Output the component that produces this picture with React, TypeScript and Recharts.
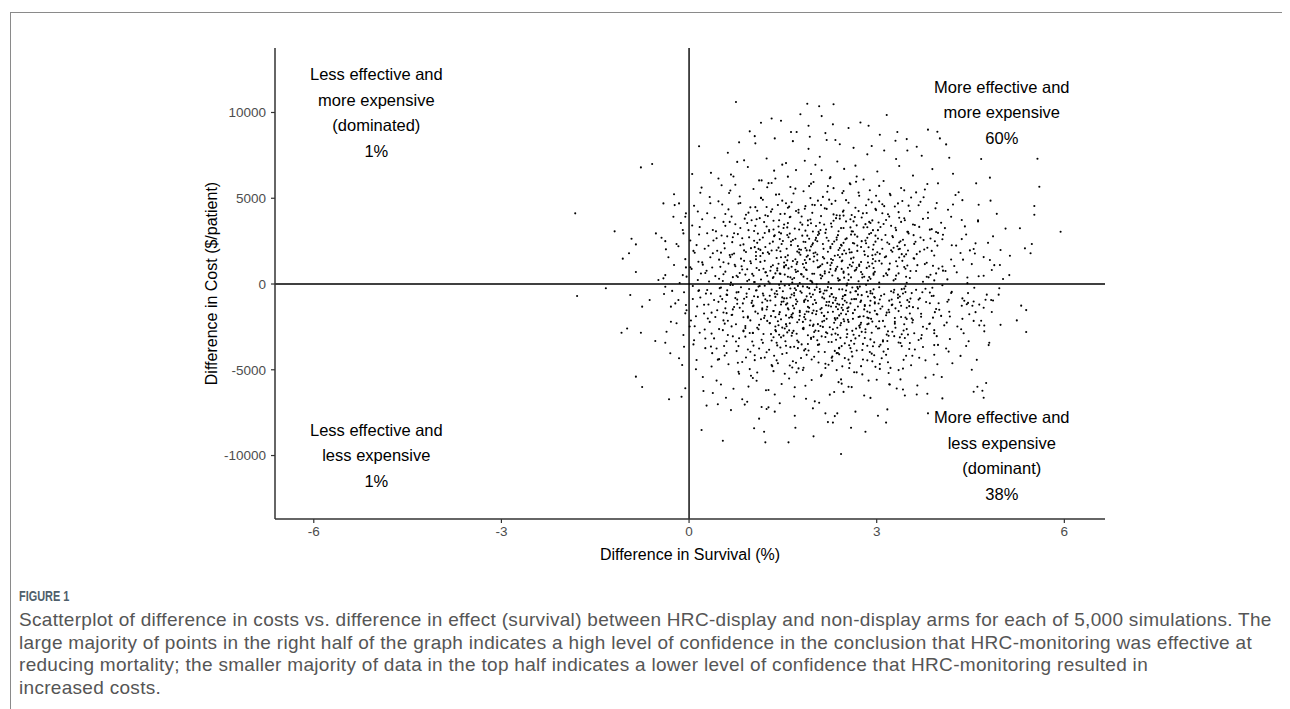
import React from "react"
import { ScatterChart, Scatter, XAxis, YAxis, ReferenceLine, ReferenceDot } from "recharts"

// [survival diff (%), cost diff ($/patient)], grouped by area
const coreAbove: [number, number][] = [
  [1.32,9650],[2.55,9100],[1.78,9900],[2.74,9420],
  [1.05,8620],[2.41,8150],[3.05,8700],[1.66,8330],[2.92,8050],[0.97,8900],[3.48,8450],[2.18,8800],
  [0.62,7650],[1.24,7320],[1.91,7880],[2.37,7140],[2.85,7560],[3.31,7290],[1.55,7050],[2.63,7940],[3.72,7480],[0.88,7210],[2.09,7420],[3.12,7780],
  [0.35,6480],[0.94,6820],[1.38,6150],[1.71,6640],[2.02,6950],[2.26,6230],[2.48,6710],[2.79,6090],[3.01,6560],[3.36,6880],[3.58,6320],[1.12,6040],[1.95,6410],[2.66,6900],[3.89,6700],[0.71,6270],[4.22,6430],[1.49,6960],
  [0.18,5320],[0.52,5760],[0.81,5100],[1.03,5540],[1.27,5880],[1.44,5230],[1.62,5660],[1.83,5410],[1.99,5950],[2.14,5080],[2.31,5590],[2.45,5300],[2.58,5820],[2.72,5150],[2.89,5470],[3.04,5720],[3.21,5260],[3.39,5600],[3.55,5040],[3.77,5510],[3.98,5870],[4.26,5190],[1.15,5020],[1.92,5710],[2.67,5960],[0.66,5450],[3.63,5340],[2.21,5380],
  [0.08,4560],[0.29,4130],[0.47,4820],[0.63,4350],[0.79,4690],[0.91,4040],[1.06,4480],[1.18,4910],[1.31,4220],[1.42,4610],[1.53,4090],[1.64,4770],[1.75,4330],[1.86,4540],[1.97,4150],[2.06,4860],[2.17,4410],[2.28,4670],[2.36,4010],[2.47,4290],[2.55,4740],[2.66,4450],[2.78,4120],[2.87,4930],[2.98,4380],[3.09,4650],[3.18,4070],[3.29,4520],[3.41,4840],[3.53,4260],[3.67,4590],[3.82,4170],[3.96,4720],[4.14,4330],[4.37,4890],[1.22,4010],[2.01,4600],[2.71,4250],[1.58,4450],[3.35,4190],
  [0.05,3410],[0.21,3780],[0.38,3150],[0.55,3620],[0.68,3930],[0.82,3270],[0.93,3560],[1.04,3090],[1.13,3840],[1.24,3350],[1.35,3690],[1.44,3020],[1.52,3470],[1.61,3890],[1.69,3230],[1.78,3590],[1.86,3110],[1.94,3760],[2.03,3380],[2.11,3960],[2.19,3180],[2.27,3530],[2.35,3840],[2.43,3260],[2.51,3650],[2.6,3070],[2.68,3420],[2.76,3880],[2.85,3310],[2.93,3710],[3.02,3140],[3.11,3500],[3.2,3930],[3.3,3280],[3.39,3620],[3.5,3050],[3.61,3440],[3.74,3800],[3.88,3200],[4.03,3570],[4.19,3920],[4.41,3360],[4.62,3710],[1.0,3720],[1.57,3300],[2.07,3040],[2.47,3990],[2.9,3560],[3.44,3830],[1.28,3150],[1.9,3430],[2.58,3300],[3.15,3730],[0.74,3480],[3.95,3030],
  [0.02,2540],[0.16,2890],[0.31,2230],[0.44,2670],[0.57,2080],[0.69,2440],[0.78,2910],[0.87,2310],[0.96,2720],[1.05,2150],[1.13,2580],[1.21,2970],[1.29,2360],[1.36,2790],[1.43,2120],[1.5,2510],[1.57,2860],[1.63,2270],[1.7,2640],[1.76,2030],[1.83,2460],[1.89,2820],[1.95,2190],[2.02,2570],[2.08,2940],[2.14,2330],[2.2,2700],[2.26,2090],[2.32,2480],[2.38,2850],[2.44,2240],[2.5,2610],[2.56,2020],[2.62,2390],[2.69,2760],[2.75,2160],[2.82,2530],[2.88,2910],[2.95,2290],[3.02,2650],[3.09,2060],[3.17,2420],[3.25,2800],[3.33,2200],[3.42,2580],[3.51,2950],[3.6,2340],[3.7,2710],[3.81,2110],[3.93,2490],[4.06,2870],[4.2,2260],[4.36,2620],[4.55,2040],[4.78,2400],[0.25,2060],[0.61,2780],[1.09,2400],[1.47,2950],[1.86,2100],[2.23,2520],[2.59,2880],[2.98,2470],[3.37,2050],[3.75,2560],[1.66,2560],[2.41,2100],[2.85,2700],[3.2,2330],[1.98,2380],
  [-0.06,1450],[0.09,1820],[0.22,1130],[0.34,1560],[0.45,1940],[0.55,1270],[0.65,1690],[0.74,1040],[0.83,1480],[0.91,1870],[0.99,1210],[1.07,1630],[1.14,1990],[1.21,1350],[1.28,1760],[1.34,1090],[1.4,1520],[1.46,1910],[1.52,1250],[1.58,1670],[1.64,1010],[1.7,1440],[1.76,1830],[1.82,1170],[1.88,1590],[1.93,1960],[1.99,1310],[2.05,1720],[2.1,1060],[2.16,1490],[2.22,1880],[2.28,1230],[2.33,1650],[2.39,1980],[2.45,1370],[2.51,1780],[2.57,1120],[2.63,1540],[2.69,1930],[2.75,1280],[2.81,1700],[2.88,1030],[2.94,1460],[3.01,1850],[3.08,1190],[3.15,1610],[3.23,1970],[3.31,1330],[3.4,1740],[3.49,1080],[3.59,1500],[3.69,1890],[3.8,1240],[3.92,1660],[4.05,1020],[4.19,1430],[4.34,1810],[4.52,1160],[4.71,1570],[0.15,1300],[0.5,1000],[0.88,1350],[1.18,1800],[1.55,1100],[1.85,1400],[2.13,1150],[2.41,1560],[2.72,1050],[3.04,1350],[3.36,1550],[3.65,1100],[1.32,1950],[2.0,1600],[2.6,1850],[2.98,1720],[1.73,1280],[2.3,1400],[2.86,1250],[3.5,1950],[0.72,1780],
  [-0.1,520],[0.04,880],[0.14,230],[0.26,640],[0.37,960],[0.48,310],[0.58,720],[0.67,90],[0.76,480],[0.85,850],[0.93,170],[1.01,590],[1.08,930],[1.15,260],[1.22,680],[1.29,40],[1.35,410],[1.41,790],[1.47,140],[1.53,550],[1.59,910],[1.65,280],[1.71,700],[1.77,60],[1.83,430],[1.88,820],[1.94,190],[2.0,600],[2.06,970],[2.11,330],[2.17,740],[2.23,110],[2.29,500],[2.35,880],[2.41,240],[2.47,650],[2.53,20],[2.59,390],[2.65,780],[2.71,160],[2.77,570],[2.84,940],[2.9,300],[2.97,710],[3.04,80],[3.11,460],[3.19,840],[3.27,210],[3.35,620],[3.44,990],[3.53,350],[3.63,760],[3.74,130],[3.86,540],[3.99,900],[4.13,270],[4.28,680],[4.45,50],[4.63,450],[4.84,820],[0.32,150],[0.7,400],[1.05,120],[1.38,620],[1.68,350],[1.97,80],[2.26,870],[2.55,560],[2.86,200],[3.17,520],[3.48,70],[3.8,420],[1.12,820],[1.8,560],[2.38,330],[2.95,930],[3.3,290],[0.55,570],[1.52,960],[2.13,460],[2.68,950],[3.92,210],[4.1,760],[1.25,480],[2.8,420],
]

const coreBelow: [number, number][] = [
  [-0.08,-480],[0.06,-120],[0.18,-790],[0.29,-350],[0.4,-930],[0.51,-210],[0.61,-640],[0.7,-60],[0.79,-470],[0.88,-860],[0.96,-290],[1.04,-710],[1.11,-150],[1.18,-560],[1.25,-980],[1.32,-330],[1.38,-750],[1.44,-40],[1.5,-420],[1.56,-830],[1.62,-260],[1.68,-670],[1.74,-110],[1.8,-510],[1.86,-900],[1.92,-240],[1.98,-610],[2.04,-20],[2.1,-440],[2.16,-850],[2.22,-180],[2.28,-580],[2.34,-950],[2.4,-310],[2.46,-720],[2.52,-90],[2.58,-490],[2.64,-880],[2.7,-270],[2.76,-650],[2.83,-50],[2.9,-410],[2.97,-800],[3.04,-190],[3.12,-600],[3.2,-970],[3.28,-340],[3.37,-730],[3.46,-130],[3.56,-530],[3.67,-910],[3.78,-280],[3.91,-690],[4.05,-70],[4.2,-460],[4.37,-840],[4.56,-220],[4.76,-620],[0.35,-560],[0.74,-820],[1.07,-380],[1.41,-600],[1.71,-900],[2.01,-340],[2.31,-770],[2.61,-200],[2.93,-560],[3.23,-420],[3.54,-850],[3.85,-500],[1.21,-100],[1.95,-760],[2.5,-640],[3.05,-900],[0.92,-560],[1.6,-60],[2.2,-380],[2.75,-970],[3.4,-300],[0.15,-400],[4.15,-920],[2.67,-420],
  [-0.04,-1530],[0.11,-1880],[0.24,-1210],[0.36,-1670],[0.47,-1040],[0.58,-1420],[0.68,-1810],[0.77,-1150],[0.86,-1590],[0.94,-1960],[1.02,-1300],[1.1,-1720],[1.17,-1080],[1.24,-1490],[1.31,-1870],[1.38,-1240],[1.45,-1640],[1.51,-1020],[1.58,-1410],[1.64,-1790],[1.71,-1170],[1.77,-1560],[1.84,-1930],[1.9,-1330],[1.97,-1700],[2.03,-1100],[2.1,-1470],[2.16,-1850],[2.23,-1260],[2.3,-1620],[2.37,-1990],[2.44,-1380],[2.51,-1760],[2.58,-1130],[2.65,-1510],[2.73,-1900],[2.81,-1280],[2.89,-1660],[2.97,-1060],[3.06,-1440],[3.15,-1820],[3.25,-1200],[3.35,-1580],[3.46,-1950],[3.58,-1350],[3.71,-1730],[3.85,-1120],[4.0,-1500],[4.17,-1890],[4.36,-1270],[4.58,-1640],[0.42,-1920],[0.81,-1380],[1.2,-1980],[1.55,-1200],[1.88,-1600],[2.2,-1050],[2.55,-1360],[2.87,-1990],[3.2,-1650],[3.52,-1050],[1.0,-1100],[1.65,-1950],[2.4,-1200],[3.0,-1750],[3.9,-1960],[0.6,-1700],[2.8,-1480],[1.35,-1570],[2.12,-1680],
  [0.01,-2480],[0.17,-2840],[0.33,-2210],[0.48,-2630],[0.62,-2970],[0.75,-2350],[0.87,-2760],[0.98,-2120],[1.09,-2550],[1.19,-2910],[1.29,-2290],[1.38,-2690],[1.47,-2060],[1.56,-2460],[1.65,-2850],[1.73,-2230],[1.82,-2600],[1.9,-2990],[1.99,-2370],[2.07,-2740],[2.16,-2140],[2.25,-2520],[2.34,-2890],[2.43,-2270],[2.52,-2660],[2.62,-2030],[2.72,-2430],[2.82,-2810],[2.93,-2190],[3.04,-2580],[3.16,-2950],[3.29,-2320],[3.43,-2710],[3.58,-2100],[3.74,-2490],[3.92,-2870],[4.12,-2250],[4.35,-2640],[0.55,-2120],[1.02,-2850],[1.43,-2400],[1.86,-2050],[2.28,-2950],[2.67,-2600],[3.1,-2150],[3.5,-2950],[1.6,-2700],[2.1,-2450],[2.85,-2350],[0.25,-2650],[3.85,-2300],[1.25,-2150],[2.47,-2050],[0.9,-2450],[3.3,-2550],[2.0,-2800],[4.55,-2150],
  [0.07,-3520],[0.26,-3180],[0.44,-3760],[0.6,-3340],[0.76,-3910],[0.9,-3070],[1.03,-3590],[1.16,-3250],[1.28,-3830],[1.4,-3420],[1.51,-3010],[1.62,-3680],[1.73,-3290],[1.84,-3870],[1.95,-3140],[2.06,-3550],[2.17,-3960],[2.28,-3380],[2.4,-3720],[2.52,-3100],[2.64,-3480],[2.77,-3850],[2.9,-3230],[3.04,-3640],[3.19,-3020],[3.35,-3410],[3.52,-3790],[3.71,-3170],[3.92,-3560],[4.15,-3940],[0.35,-3650],[0.98,-3950],[1.55,-3600],[2.12,-3050],[2.6,-3950],[3.1,-3350],[1.35,-3100],[2.35,-3250],[3.45,-3150],[0.7,-3050],[1.9,-3500],[2.85,-3600],
  [0.12,-4430],[0.36,-4810],[0.57,-4170],[0.78,-4590],[0.97,-4960],[1.15,-4320],[1.32,-4720],[1.49,-4080],[1.66,-4500],[1.83,-4880],[2.0,-4240],[2.18,-4650],[2.36,-4030],[2.55,-4410],[2.75,-4790],[2.96,-4150],[3.18,-4560],[3.42,-4930],[3.68,-4300],[3.97,-4680],[0.48,-4380],[1.05,-4150],[1.75,-4920],[2.45,-4800],[3.05,-4950],[2.28,-4300],[1.4,-4450],[2.85,-4450],
  [0.22,-5420],[0.51,-5860],[0.8,-5230],[1.08,-5640],[1.35,-5080],[1.6,-5510],[1.86,-5930],[2.12,-5300],[2.39,-5720],[2.68,-5150],[3.0,-5580],[3.35,-5020],[3.78,-5460],[0.95,-5980],[1.72,-5150],[2.55,-5990],[3.2,-5850],
  [0.38,-6350],[0.85,-6720],[1.27,-6180],[1.68,-6560],[2.08,-6920],[2.47,-6290],[2.9,-6640],[3.42,-6150],[1.45,-6950],[2.25,-6450],
  [1.12,-7850],[2.22,-8050],
]

// second pass over the cloud, read column by column
const coreColumns: [number, number][] = [
  [0.03,-2130],[0.41,3860],[0.27,-560],[0.12,2270],[0.46,-4410],[0.19,610],[0.33,5070],[0.08,-3280],[0.38,1790],[0.24,-1720],[0.49,-240],[0.14,4230],[0.44,-5630],[0.29,2960],[0.06,-870],[0.36,-2890],[0.21,1260],[0.47,6150],[0.11,-4970],[0.31,-1190],[0.42,460],[0.17,3320],[0.26,-3740],[0.39,2540],[0.02,980],[0.45,-1530],[0.23,-6240],[0.34,4710],[0.09,-2460],[0.48,1420],[0.16,-360],[0.3,-2010],[0.43,3070],[0.2,5620],[0.37,-4030],[0.13,-1310],[0.28,770],[0.4,-3170],[0.07,1930],[0.5,-710],
  [0.52,2830],[0.87,-1940],[0.61,-370],[0.95,4160],[0.73,1120],[0.56,-3610],[0.81,640],[0.68,-2470],[0.99,2090],[0.64,5310],[0.77,-910],[0.58,3390],[0.91,-4280],[0.7,-1480],[0.85,2670],[0.54,180],[0.97,-2860],[0.66,1570],[0.79,-5120],[0.6,-620],[0.89,3810],[0.75,-3350],[0.53,4640],[0.93,860],[0.69,-1790],[0.83,-190],[0.57,-2310],[0.98,1330],[0.72,2960],[0.63,-4680],[0.86,-1130],[0.51,1830],[0.94,-3820],[0.78,410],[0.67,6380],[0.9,-2570],[0.59,-1030],[0.82,4720],[0.71,-6110],[0.96,250],[0.55,-1660],[0.88,1960],[0.65,3620],[0.8,-3160],[0.92,-760],[0.74,5790],[0.62,-2140],[0.84,1040],[0.56,2380],[0.99,-5350],[0.76,-490],[0.69,1720],[0.87,-2720],[0.6,-4020],[0.95,3140],[0.53,-880],[0.82,2260],[0.72,-1340],[0.9,550],[0.58,4080],[0.79,-3620],[0.66,-60],[0.94,-1890],[0.7,2730],[0.85,-4550],[0.63,1190],[0.98,4470],[0.54,-2690],[0.77,7120],[0.89,-7030],
  [1.03,-1260],[1.37,2840],[1.18,-3430],[1.46,590],[1.09,4270],[1.29,-680],[1.42,-2170],[1.14,1630],[1.33,-4790],[1.06,3390],[1.48,-1040],[1.22,2160],[1.39,5210],[1.11,-2640],[1.27,140],[1.44,3720],[1.02,-5480],[1.35,-1580],[1.19,890],[1.47,-3110],[1.24,4490],[1.08,-360],[1.4,1970],[1.31,-2920],[1.16,6040],[1.49,-780],[1.04,2520],[1.36,-4180],[1.21,-1850],[1.43,1180],[1.12,-3760],[1.28,3060],[1.45,-230],[1.07,1440],[1.38,-2480],[1.25,5640],[1.01,-980],[1.34,350],[1.17,-1420],[1.46,4080],[1.23,-6190],[1.1,2940],[1.41,-3580],[1.3,770],[1.15,-2050],[1.48,2330],[1.05,-4440],[1.37,-560],[1.2,3610],[1.44,-1760],[1.13,-120],[1.32,-3290],[1.26,1850],[1.49,4860],[1.03,480],[1.39,-2760],[1.18,2710],[1.47,-1190],[1.09,-5160],[1.35,3180],[1.22,-890],[1.42,-4620],[1.14,1290],[1.29,-2280],[1.45,610],[1.06,-1610],[1.33,4360],[1.24,-3980],[1.4,-410],[1.11,2050],[1.27,-7190],[1.47,1560],[1.02,-2860],[1.36,6610],[1.19,-670],[1.44,-2960],[1.08,3780],[1.31,1010],[1.25,-1330],[1.48,-5830],[1.15,5020],[1.38,-1930],[1.04,120],[1.34,2470],[1.21,-4290],[1.43,3350],[1.12,-2380],[1.3,-960],[1.46,-3700],[1.07,1870],[1.41,910],[1.17,-1500],[1.26,3960],[1.49,-2540],[1.1,-750],[1.37,-6440],[1.23,690],[1.45,2620],[1.01,-3350],[1.32,5890],
  [1.52,-840],[1.88,1960],[1.67,-2730],[1.95,3540],[1.58,420],[1.79,-4310],[1.63,2480],[1.91,-1620],[1.71,-350],[1.55,4710],[1.84,960],[1.99,-3080],[1.6,-1970],[1.76,3180],[1.93,-560],[1.66,1340],[1.53,-5230],[1.82,-2210],[1.97,2290],[1.7,5560],[1.57,-1130],[1.86,-3790],[1.74,740],[1.9,-980],[1.62,3920],[1.98,-2450],[1.78,1710],[1.54,-3340],[1.85,4390],[1.68,-1420],[1.96,160],[1.61,-4750],[1.81,2820],[1.72,-2900],[1.89,-180],[1.56,2060],[1.94,5010],[1.77,-1850],[1.64,-610],[1.87,1230],[1.51,3270],[1.8,-3520],[1.69,-6020],[1.92,2640],[1.59,-1490],[1.83,-2560],[1.75,4160],[1.98,-1180],[1.65,80],[1.88,-4130],[1.73,1890],[1.55,-2340],[1.9,3710],[1.62,-790],[1.96,-5600],[1.79,580],[1.58,6260],[1.85,-1760],[1.68,-3660],[1.93,1450],[1.53,-90],[1.76,-2080],[1.97,4620],[1.61,2940],[1.84,-970],[1.71,-4590],[1.89,310],[1.57,-2820],[1.81,3460],[1.66,-1270],[1.95,-3210],[1.74,2210],[1.52,1040],[1.87,-6690],[1.63,-1910],[1.99,1790],[1.78,-420],[1.6,4510],[1.83,-2630],[1.7,830],[1.92,-1390],[1.56,-4020],[1.86,2450],[1.67,5280],[1.94,-2130],[1.73,-1020],[1.54,1570],[1.82,-5010],[1.97,600],[1.64,-3020],[1.8,3940],[1.69,-250],[1.91,-3880],[1.59,2730],[1.77,-1640],[1.98,3060],[1.65,-4870],[1.88,-720],[1.72,1160],[1.55,-1830],[1.85,7190],[1.62,390],[1.93,-2400],[1.75,-3390],[1.58,3550],[1.9,1660],[1.68,-530],[1.96,-4400],[1.79,2000],[1.61,-2290],[1.84,-1050],[1.71,4260],[1.53,-2590],[1.87,850],[1.66,-1710],[1.95,5850],[1.74,-3740],[1.57,1380],[1.82,-140],[1.99,-1540],
  [2.02,1840],[2.38,-2960],[2.17,620],[2.46,-1210],[2.09,3570],[2.29,-4480],[2.43,2280],[2.13,-780],[2.34,4850],[2.06,-2340],[2.48,370],[2.22,-1650],[2.39,3080],[2.11,-5370],[2.27,1460],[2.44,-3620],[2.04,-190],[2.36,2710],[2.19,-2810],[2.47,5420],[2.24,-1040],[2.08,990],[2.4,-4100],[2.31,4060],[2.16,-1870],[2.49,-650],[2.05,2490],[2.37,-2550],[2.21,1230],[2.44,-5810],[2.12,-1400],[2.28,3340],[2.45,-310],[2.07,-3950],[2.38,1690],[2.25,6170],[2.01,-930],[2.34,-2090],[2.18,2980],[2.46,-1520],[2.23,-4710],[2.1,530],[2.41,3810],[2.3,-2640],[2.15,-560],[2.48,1950],[2.05,-3280],[2.37,-1150],[2.2,4380],[2.44,880],[2.13,-2190],[2.32,-6300],[2.26,2170],[2.49,-3460],[2.03,-1760],[2.39,200],[2.18,-3090],[2.47,3270],[2.09,-470],[2.35,-1330],[2.22,5710],[2.42,-2400],[2.14,1570],[2.29,-4230],[2.45,-860],[2.06,2860],[2.33,-1990],[2.24,690],[2.4,-3750],[2.11,4600],[2.27,-240],[2.47,2400],[2.02,-2710],[2.36,-5020],[2.19,-1240],[2.44,1320],[2.08,-3520],[2.31,3690],[2.25,-720],[2.48,-2170],[2.15,2050],[2.38,-4020],[2.04,-1580],[2.34,780],[2.21,-2870],[2.43,-5560],[2.1,3150],[2.3,-1100],[2.46,4210],[2.17,-380],[2.4,-1830],[2.26,1090],[2.07,-4580],[2.36,2580],[2.23,-3380],[2.49,-980],[2.12,6630],[2.32,-2260],[2.45,1740],[2.01,-6840],[2.28,-590],[2.42,-3140],[2.16,3470],[2.38,-1470],[2.2,-2030],[2.47,730],[2.05,1380],[2.33,-3900],[2.24,4920],[2.43,-1720],[2.14,-2500],[2.29,2330],[2.49,-4320],[2.09,-290],[2.37,1010],[2.27,-1310],[2.41,3990],[2.18,-4900],[2.35,-820],[2.03,2690],
  [2.53,-1410],[2.87,2140],[2.66,-3170],[2.95,540],[2.58,3780],[2.79,-1880],[2.92,-4060],[2.62,1250],[2.84,-460],[2.51,4890],[2.73,-2540],[2.98,2820],[2.6,-890],[2.77,-5270],[2.93,1680],[2.55,-2210],[2.82,3490],[2.69,-170],[2.96,-3400],[2.64,2360],[2.89,-1250],[2.57,-4620],[2.75,700],[2.99,4310],[2.61,-2730],[2.86,-730],[2.71,5330],[2.54,950],[2.91,-2030],[2.68,-3880],[2.8,1910],[2.52,-1080],[2.94,3140],[2.74,-2360],[2.6,-6010],[2.88,410],[2.65,2880],[2.97,-1560],[2.56,-3570],[2.83,4590],[2.7,-620],[2.92,-2840],[2.59,1480],[2.78,-4400],[2.95,-310],[2.63,3650],[2.85,-1950],[2.53,-2910],[2.76,2500],[2.98,-4830],[2.67,830],[2.9,-980],[2.57,5870],[2.81,-3150],[2.72,1130],[2.94,2010],[2.62,-1700],[2.87,-5630],[2.55,230],[2.79,3300],[2.99,-2480],[2.66,-420],[2.84,4140],[2.58,-3740],[2.93,1200],[2.7,-1310],[2.52,2660],[2.89,-3960],[2.75,-2260],[2.6,4020],[2.96,-760],[2.64,-5140],[2.86,1620],[2.73,-150],[2.54,-2090],[2.91,2970],[2.78,-3490],[2.68,6270],[2.97,-1140],[2.57,1840],[2.82,-2640],[2.61,-4220],[2.88,3620],[2.74,-1050],[2.95,620],[2.63,-2960],[2.8,-6500],[2.51,-380],[2.92,4760],[2.69,2240],[2.85,-1600],[2.59,-3310],[2.98,1330],[2.76,-2790],[2.65,3900],[2.9,-540],[2.56,-4900],[2.83,2380],[2.71,-1920],[2.94,-3630],[2.6,1040],[2.87,-2310],[2.67,-880],[2.99,5150],[2.54,-1590],[2.77,380],[2.93,-4510],[2.62,3060],[2.81,-1230],[2.72,-3020],
  [3.03,-1140],[3.38,2490],[3.17,-3320],[3.46,890],[3.09,4130],[3.29,-1980],[3.43,-4420],[3.13,1560],[3.34,-620],[3.06,3320],[3.48,-2630],[3.22,5180],[3.39,-1270],[3.11,-3940],[3.27,2110],[3.44,-270],[3.04,-2170],[3.36,3860],[3.19,-5190],[3.47,1730],[3.24,-900],[3.08,2580],[3.4,-3620],[3.31,490],[3.16,-1670],[3.49,3040],[3.05,-4670],[3.37,-1060],[3.21,1190],[3.44,-2350],[3.12,4540],[3.28,-3040],[3.45,2270],[3.07,-680],[3.38,-5560],[3.25,1880],[3.01,-1780],[3.34,4700],[3.18,-2760],[3.46,-470],[3.23,3390],[3.1,-3280],[3.41,1350],[3.3,-1420],[3.15,-4130],[3.48,-2040],[3.05,1760],[3.37,-3110],[3.2,860],[3.44,5460],[3.13,-2480],[3.32,-6090],[3.26,2730],[3.49,-940],[3.03,3590],[3.39,-1920],[3.18,-3790],[3.47,420],[3.09,-1310],[3.35,2030],[3.22,-4890],[3.42,-550],[3.14,2860],[3.29,-2210],[3.45,3720],[3.06,-3540],[3.33,1040],[3.24,-1230],[3.4,-2930],[3.11,6010],[3.27,-490],[3.47,-4180],[3.02,-2590],[3.36,2420],[3.19,-1500],[3.44,1610],[3.08,-4330],[3.31,3140],[3.25,-2780],[3.48,-1380],[3.15,620],[3.38,-3440],[3.04,4820],[3.34,-810],[3.21,-5860],
  [3.53,-1720],[3.88,1930],[3.67,-3260],[3.95,620],[3.58,3470],[3.79,-1050],[3.92,-4120],[3.62,2460],[3.84,-2330],[3.51,4570],[3.73,-480],[3.98,2980],[3.6,-2870],[3.77,1160],[3.93,-1640],[3.55,-4740],[3.82,3850],[3.69,-830],[3.96,-3040],[3.64,1740],[3.89,-220],[3.57,-2240],[3.75,5060],[3.99,-1120],[3.61,-3820],[3.86,2650],[3.71,-1910],[3.54,760],[3.91,-5290],[3.68,3330],[3.8,-2610],[3.52,-1290],[3.94,4410],[3.74,-3670],[3.6,1480],[3.88,-700],[3.65,-5920],[3.97,2240],[3.56,-2010],[3.83,390],[3.7,4790],[3.92,-2690],[3.59,2850],[3.78,-4450],[3.95,-1460],[3.63,-340],[3.85,3170],[3.53,-3440],[3.76,2010],[3.98,-3550],[3.66,-1420],[3.9,1060],[3.57,-4180],[3.81,5830],[3.72,-2970],
  [4.03,-1860],[4.38,1420],[4.17,-3210],[4.46,-530],[4.09,3260],[4.29,-2480],[4.43,2890],[4.13,-1030],[4.34,-4190],[4.06,780],[4.48,-1760],[4.22,4640],[4.39,-2870],[4.11,-3760],[4.27,2240],[4.44,-1180],[4.04,-5420],[4.36,3730],[4.19,-520],[4.47,-3340],[4.24,1050],[4.08,-2410],[4.4,-980],[4.31,5350],[4.16,-1620],[4.49,1960],[4.05,2610],[4.37,-2030],[4.21,-4620],[4.45,380],
  [4.53,-1270],[4.88,1100],[4.67,-2140],[4.95,-620],[4.58,2370],[4.79,-3560],[4.62,3650],[4.84,-1630],[4.71,480],[4.98,-2380],[4.6,-4420],[4.86,2780],[4.74,-920],[4.57,1780],[4.92,4090],
]

const edgeTop: [number, number][] = [
  [0.75,10610],[1.89,10510],[2.08,10360],[2.31,10480],[2.12,9790],[3.16,9850],[1.47,9520],[1.15,9400],[1.91,9230],[2.3,9310],[2.87,9230],[1.63,8860],[1.72,8860],[3.82,9000],[3.97,8880],[4.01,8490],[4.11,8140],[3.33,8860],[0.16,8030],[0.8,8260],[1.37,8490],[2.2,8400],[2.34,8400],[1.93,8590],[1.06,8200],[4.16,7360],[3.64,8000],[3.49,7780],[3.3,8350],
]

const edgeRight: [number, number][] = [
  [4.67,7290],[5.57,7300],[4.81,6200],[4.59,5870],[5.6,5670],[4.82,4860],[5.52,4550],[5.52,4040],[4.63,4620],[5.94,3050],[5.29,3250],[5.06,3230],[5.37,2080],[5.48,2330],[5.46,1790],[5.13,1650],[5.12,520],[5.02,290],[4.98,1980],[4.81,1400],[4.97,1110],
  [5.31,-1260],[5.39,-1520],[5.24,-2120],[5.39,-2800],[4.83,-930],[4.86,-960],[4.71,-1380],[4.64,-1200],[4.55,-1020],[4.46,-1100],[4.64,-2410],[4.72,-2420],[4.72,-2760],[4.8,-3420],[4.43,-3610],[4.52,-5000],[4.75,-5770],[4.61,-5990],[4.55,-6280],[4.69,-6220],[4.71,-6630],[4.96,-250],
]

const edgeBottom: [number, number][] = [
  [0.2,-8510],[0.54,-9140],[0.28,-7090],[0.46,-7010],[0.59,-6630],[0.67,-7350],[0.93,-6860],[1.04,-8410],[1.2,-8610],[1.22,-9230],[1.59,-9230],[1.7,-8380],[1.99,-8880],[2.43,-9910],[2.59,-8380],[2.82,-8610],[1.69,-7680],[1.37,-7440],[1.16,-7170],[1.24,-7290],[1.98,-7250],[2.18,-7540],[2.33,-7700],[2.37,-7540],[2.3,-8080],[2.66,-7440],[3.02,-7680],[3.15,-8080],[3.17,-7310],[3.82,-7540],[3.45,-6500],[3.64,-6440],[3.81,-6400],[4.05,-6670],
]

const edgeLeft: [number, number][] = [
  [-1.82,4120],[-0.77,6800],[-0.59,7000],[-1.79,-700],[-1.33,-250],[-1.19,3070],[-0.92,2640],[-0.85,2310],[-0.96,1790],[-1.06,1480],[-0.85,700],[-0.94,-640],[-0.75,-1320],[-0.63,-930],[-1.08,-2840],[-0.99,-2590],[-0.77,-2840],[-0.85,-5400],[-0.75,-6000],[-0.32,-6720],[-0.41,4700],[-0.24,5230],[-0.16,4700],[-0.23,4600],[-0.53,2950],[-0.44,2700],[-0.38,2500],
  [-0.54,-3320],[-0.38,-3420],[-0.3,-4040],[-0.16,-4330],[-0.11,-4720],[-0.06,-6080],[-0.12,-6570],
  [-0.05,4120],[0.05,6410],[-0.13,3560],[-0.09,2950],[-0.2,2330],[-0.17,2200],[-0.33,1560],[-0.24,1110],[-0.05,970],[-0.38,520],[-0.41,330],[-0.49,230],[-0.04,430],[-0.38,-160],[-0.4,-580],[-0.17,-930],[-0.22,-1130],[-0.29,-1320],[-0.05,-1220],[-0.06,-1710],[-0.29,-2200],[-0.2,-2290],[-0.36,-2780],[-0.09,-2970],[-0.08,-3660],[-0.25,3920],[-0.1,3150],[-0.06,3920],[-0.37,2020],[-0.15,60],[-0.27,-400],
]

const xTicks = [-6, -3, 0, 3, 6]
const yTicks = [-10000, -5000, 0, 5000, 10000]

const quadrantLabels: { x: number; y: number; lines: string[] }[] = [
  { x: -5, y: 10000, lines: ["Less effective and", "more expensive", "(dominated)", "1%"] },
  { x: 5, y: 10000, lines: ["More effective and", "more expensive", "60%"] },
  { x: -5, y: -10000, lines: ["Less effective and", "less expensive", "1%"] },
  { x: 5, y: -10000, lines: ["More effective and", "less expensive", "(dominant)", "38%"] },
]

const captionLines = [
  "Scatterplot of difference in costs vs. difference in effect (survival) between HRC-display and non-display arms for each of 5,000 simulations. The",
  "large majority of points in the right half of the graph indicates a high level of confidence in the conclusion that HRC-monitoring was effective at",
  "reducing mortality; the smaller majority of data in the top half indicates a lower level of confidence that HRC-monitoring resulted in",
  "increased costs.",
]

const points = [...coreAbove, ...coreBelow, ...coreColumns, ...edgeTop, ...edgeRight, ...edgeBottom, ...edgeLeft].map(([x, y]) => ({ x, y }))

const Dot = (p: any) => <circle cx={p.cx} cy={p.cy} r={1.05} fill="#000" />

const quadLabel = (lines: string[]) => (props: any) => {
  const vb = props.viewBox || {}
  const cx = vb.x + (vb.width || 0) / 2
  const cy = vb.y + (vb.height || 0) / 2
  const lh = 25.5
  const top = cy - ((lines.length - 1) * lh) / 2
  return (
    <text textAnchor="middle" fontSize={16.5} fill="#000" fontFamily="'Liberation Sans', Arial, sans-serif">
      {lines.map((l, i) => (
        <tspan key={i} x={cx} y={top + i * lh} dy="0.35em">{l}</tspan>
      ))}
    </text>
  )
}

export default function App() {
  return (
    <div style={{ position: "relative", width: 1290, height: 709, marginTop: -8, marginLeft: -8, fontFamily: "'Liberation Sans', Arial, sans-serif" }}>
      <div style={{ position: "absolute", left: 10, top: 12, width: 1280, height: 697, borderTop: "1.5px solid #8a8a8a", borderLeft: "1.5px solid #8a8a8a" }} />
      <div style={{ position: "absolute", left: 0, top: 0 }}>
        <ScatterChart width={1290} height={580} margin={{ top: 48, right: 185, left: 195, bottom: 16 }}>
          <XAxis
            type="number"
            dataKey="x"
            domain={[-6.62, 6.65]}
            ticks={xTicks}
            allowDataOverflow
            tickSize={4}
            tickMargin={3}
            tick={{ fill: "#4d4d4d", fontSize: 13.5 }}
            tickLine={{ stroke: "#333", strokeWidth: 1.2 }}
            axisLine={{ stroke: "#333", strokeWidth: 1.5 }}
            height={45}
            label={{ value: "Difference in Survival (%)", position: "insideBottom", offset: 4, fill: "#000", fontSize: 16 }}
          />
          <YAxis
            type="number"
            dataKey="y"
            domain={[-13700, 13760]}
            ticks={yTicks}
            allowDataOverflow
            tickSize={4}
            tickMargin={5}
            tick={{ fill: "#4d4d4d", fontSize: 13.5 }}
            tickLine={{ stroke: "#333", strokeWidth: 1.2 }}
            axisLine={{ stroke: "#333", strokeWidth: 1.5 }}
            width={80}
            label={{ value: "Difference in Cost ($/patient)", angle: -90, position: "insideLeft", offset: 16, fill: "#000", fontSize: 16, style: { textAnchor: "middle" } }}
          />
          <ReferenceLine x={0} stroke="#000" strokeWidth={1.4} />
          <ReferenceLine y={0} stroke="#000" strokeWidth={1.4} />
          <Scatter data={points} shape={Dot} isAnimationActive={false} />
          {quadrantLabels.map((q, i) => (
            <ReferenceDot key={i} x={q.x} y={q.y} r={0} fill="none" stroke="none" label={quadLabel(q.lines)} />
          ))}
        </ScatterChart>
      </div>
      <div style={{ position: "absolute", left: 19, top: 588, fontSize: 14, fontWeight: 700, color: "#4f5f6b", fontFamily: "'Liberation Sans', sans-serif", transform: "scaleX(0.78)", transformOrigin: "left center", whiteSpace: "nowrap" }}>
        FIGURE 1
      </div>
      {captionLines.map((l, i) => (
        <div key={i} style={{ position: "absolute", left: 19, top: 609 + i * 22.6, whiteSpace: "nowrap", fontSize: 19, letterSpacing: 0.3, lineHeight: "22px", color: "#555", fontFamily: "'Liberation Sans', sans-serif" }}>
          {l}
        </div>
      ))}
    </div>
  )
}
